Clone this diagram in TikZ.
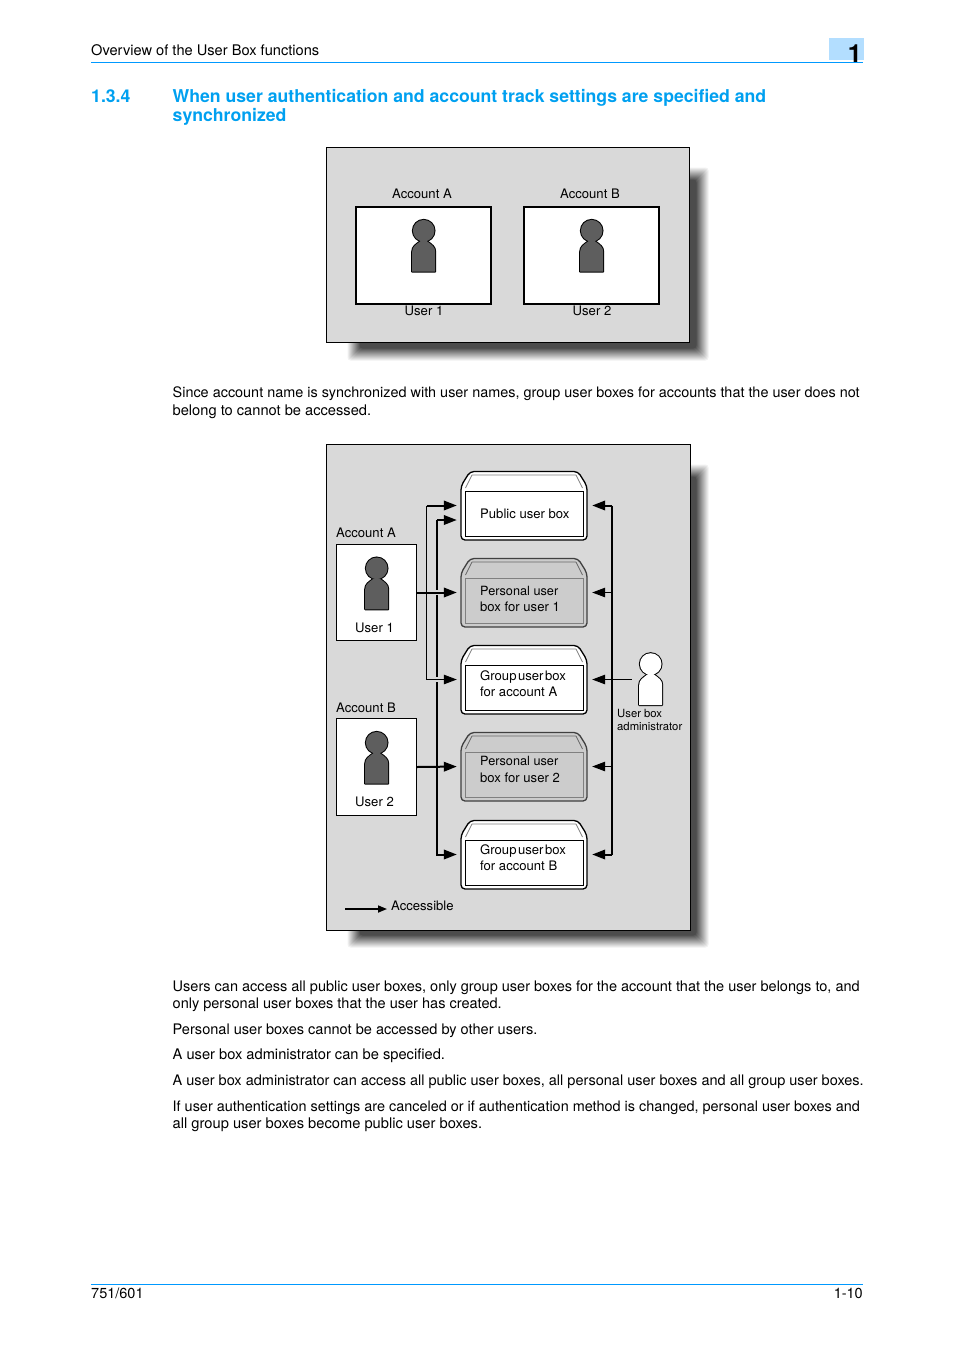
\documentclass[tikz,border=0pt]{standalone}
\usepackage{fontspec}
\setmainfont{TeX Gyre Heros}
\usetikzlibrary{arrows.meta,calc}
\definecolor{rule}{RGB}{0,153,255}
\definecolor{headblue}{RGB}{0,160,240}
\definecolor{tabblue}{RGB}{179,222,255}
\definecolor{panelgray}{gray}{0.85}
\definecolor{persongray}{gray}{0.37}
\definecolor{boxgray}{gray}{0.8}
\newcommand{\bsz}[1]{\fontsize{#1}{17}\selectfont}
\tikzset{
  body/.style={anchor=base west,inner sep=0pt,font=\fontsize{14.5}{17}\selectfont},
  dia/.style={inner sep=0pt,font=\fontsize{13.1}{15}\selectfont},
  diaw/.style={dia,anchor=base west},
  diac/.style={dia,anchor=base},
  headtxt/.style={anchor=base west,inner sep=0pt,text=headblue,font=\fontsize{17.65}{20}\bfseries\selectfont},
  panel/.style={draw=black,line width=1pt,fill=panelgray},
  wbox/.style={draw=black,fill=white,inner sep=0pt},
  outerbox/.style={inner sep=0pt,minimum width=126pt,minimum height=69pt},
  thickconn/.style={line width=2pt,-{Triangle[length=13pt,width=9.5pt]}},
  thinconn/.style={line width=1pt,-{Triangle[length=13pt,width=9.5pt]}},
  thickline/.style={line width=2pt},
  thinline/.style={line width=1pt},
  halo/.style={draw=panelgray,line width=5pt},
}
\newcommand{\softshadow}[4]{%
  \foreach \i [evaluate=\i as \e using {6.5-\i}, evaluate=\i as \p using {\i*5.4}] in {0,...,13}{%
    \fill[black!\p,rounded corners=3pt] (#1-\e,#2-\e) rectangle (#3+\e,#4+\e);
  }%
}
\newcommand{\personfig}[4]{% x y fill stroke
  \begin{scope}[shift={(#1,#2)}]
    \def\bodypath{(-11.5,41) -- (-11.5,21) .. controls (-11.5,16) and (-8,14) .. (-2.5,10) -- (2.5,10) .. controls (8,14) and (11.5,16) .. (11.5,21) -- (11.5,41) -- cycle}
    \draw[#4,line width=2pt,line join=round] \bodypath;
    \draw[#4,line width=2pt] (0,0) circle[radius=10.8];
    \fill[#3] \bodypath;
    \fill[#3] (0,0) circle[radius=10.8];
  \end{scope}
}
\newcommand{\userbox}[6]{% name top fill outer stroke flap stroke inner stroke
  \begin{scope}[shift={(0,#2)}]
    \draw[#4,line width=1.3pt,fill=#3,rounded corners=4pt] (461,69) -- (461,15) -- (470,0.5) -- (578,0.5) -- (587,15) -- (587,69) -- cycle;
    \draw[#5,line width=.8pt,line join=round] (465.5,17) -- (472,4) -- (576,4) -- (582.5,17);
    \draw[#6,line width=1.2pt,fill=#3] (465.5,20.5) rectangle (583.5,65.5);
  \end{scope}
  \node[outerbox] (#1) at (524,#2+34.5) {};
}
\begin{document}
\begin{tikzpicture}[x=1pt,y=-1pt]
\useasboundingbox (0,0) rectangle (954,1350);
% page furniture
\fill[tabblue] (829,38) rectangle (864,60);
\draw[rule,line width=1pt] (91,62.5) -- (863,62.5);
\node[body] (hdr) at (91,55) {\bsz{14.63}Overview of the User Box functions};
\node[anchor=base east,inner sep=0pt,font=\fontsize{25}{25}\bfseries\selectfont] (chap) at (862,62) {1};
\node[headtxt] (secno) at (91,102) {1.3.4};
\node[headtxt] (sect1) at (172.5,102) {When user authentication and account track settings are specified and};
\node[headtxt] (sect2) at (172.5,121) {synchronized};
\draw[rule,line width=1pt] (91,1284.5) -- (863,1284.5);
\node[body] (foot1) at (91,1298.6) {751/601};
\node[body,anchor=base east] (foot2) at (863,1298.6) {1-10};
% first figure
\softshadow{353}{173}{703}{355}
\draw[panel] (326.5,147.5) rectangle (689.5,342.5);
\node[wbox,line width=1.6pt,minimum width=135pt,minimum height=97pt] (boxA) at (423.7,255.5) {};
\node[wbox,line width=1.6pt,minimum width=135pt,minimum height=97pt] (boxB) at (591.7,255.5) {};
\personfig{423.7}{230.7}{persongray}{black}
\personfig{591.7}{230.7}{persongray}{black}
\node[diac] (la) at (422,198) {Account A};
\node[diac] (lb) at (590,198) {Account B};
\node[diac] (lu1) at (424,315) {User 1};
\node[diac] (lu2) at (592,315) {User 2};
% text
\node[body] (t1) at (172.5,397) {\bsz{14.42}Since account name is synchronized with user names, group user boxes for accounts that the user does not};
\node[body] (t2) at (172.5,415) {\bsz{14.65}belong to cannot be accessed.};
% second figure
\softshadow{353}{470}{703}{942}
\draw[panel] (326.5,444.5) rectangle (690.5,930.5);
\node[wbox,line width=1.2pt,minimum width=79.5pt,minimum height=96.5pt] (acctA) at (376.5,592.5) {};
\node[wbox,line width=1.2pt,minimum width=79.5pt,minimum height=96.5pt] (acctB) at (376.5,767) {};
\personfig{376.7}{568.3}{persongray}{black}
\personfig{376.7}{742.7}{persongray}{black}
\personfig{650.7}{664}{white}{black}
\userbox{pub}{471}{white}{black}{gray}{black}
\userbox{pers1}{558}{boxgray}{black!75}{black!60}{black!50}
\userbox{grpA}{645}{white}{black}{gray}{black}
\userbox{pers2}{732}{boxgray}{black!75}{black!60}{black!50}
\userbox{grpB}{820}{white}{black}{gray}{black}
\node[inner sep=0pt,minimum width=26pt,minimum height=52pt] (admin) at (650.7,680) {};
\coordinate (vA) at (426.5,592.5);
\coordinate (vB) at (437,767);
\coordinate (vR) at (612,592.5);
% account B route
\draw[thickline] (vB) -- (vB |- 0,520) coordinate (bTop);
\draw[thickconn,shorten >=4pt] (bTop) -- ([yshift=-14.5pt]pub.west);
\draw[thickconn,shorten >=4pt] (vB) |- (grpB.west);
\draw[thickconn,shorten >=4pt] (acctB.east) -- (pers2.west);
% account A route (passes over B's line)
\draw[halo] (vB |- acctA.east) ++(-3,0) -- ++(6,0);
\draw[halo] (vB |- grpA.west) ++(-3,0) -- ++(6,0);
\draw[thickconn,shorten >=4pt] (acctA.east) -- (pers1.west);
\draw[thinline] (vA) -- (vA |- pub.west);
\draw[thinline] (vA) -- (vA |- grpA.west);
\draw[thickconn,shorten >=4pt] (vA |- pub.west) -- (pub.west);
\draw[thinconn,shorten >=4pt] (vA |- grpA.west) -- (grpA.west);
% administrator route
\draw[thickline] (vR |- pub.east) -- (vR |- grpB.east);
\draw[thickconn,shorten >=5pt] (vR |- pub.east) -- (pub.east);
\draw[thinconn,shorten >=5pt] (vR) -- (pers1.east);
\draw[thinconn,shorten >=5pt] (vR |- pers2.east) -- (pers2.east);
\draw[thickconn,shorten >=5pt] (vR |- grpB.east) -- (grpB.east);
\draw[thinconn,shorten >=5pt,shorten <=6pt] (admin.west |- grpA.east) -- (grpA.east);
% labels
\node[diaw] (acA) at (336,537) {Account A};
\node[diaw] (acB) at (336,712) {Account B};
\node[diac] (u1) at (374.5,632) {User 1};
\node[diac] (u2) at (374.5,806) {User 2};
\node[diaw] (pubt) at (480,518) {Public user box};
\node[diaw] (p1a) at (480,595) {\fontsize{12.7}{15}\selectfont Personal user};
\node[diaw] (p1b) at (480,611) {box for user 1};
\node[diaw] (gaa) at (480,680) {Group\hspace{.12em}user\hspace{.12em}box};
\node[diaw] (gab) at (480,696) {for account A};
\node[diaw] (p2a) at (480,765) {\fontsize{12.7}{15}\selectfont Personal user};
\node[diaw] (p2b) at (480,782) {box for user 2};
\node[diaw] (gba) at (480,854) {Group\hspace{.12em}user\hspace{.12em}box};
\node[diaw] (gbb) at (480,870) {for account B};
\node[diaw,font=\fontsize{11.3}{13}\selectfont] (ub1) at (617,717.5) {User box};
\node[diaw,font=\fontsize{11.3}{13}\selectfont] (ub2) at (617,730.5) {administrator};
\coordinate (legL) at (345,909);
\node[diaw] (legend) at (391,910) {Accessible};
\draw[line width=1.6pt,-{Triangle[length=9pt,width=7pt]},shorten >=4pt] (legL) -- (legL -| legend.west);
% text
\node[body] (t3) at (172.5,991) {\bsz{14.52}Users can access all public user boxes, only group user boxes for the account that the user belongs to, and};
\node[body] (t4) at (172.5,1008) {\bsz{14.53}only personal user boxes that the user has created.};
\node[body] (t5) at (172.5,1034) {\bsz{14.55}Personal user boxes cannot be accessed by other users.};
\node[body] (t6) at (172.5,1059) {\bsz{14.66}A user box administrator can be specified.};
\node[body] (t7) at (172.5,1085) {\bsz{14.52}A user box administrator can access all public user boxes, all personal user boxes and all group user boxes.};
\node[body] (t8) at (172.5,1111) {\bsz{14.44}If user authentication settings are canceled or if authentication method is changed, personal user boxes and};
\node[body] (t9) at (172.5,1128) {\bsz{14.69}all group user boxes become public user boxes.};
\end{tikzpicture}
\end{document}
